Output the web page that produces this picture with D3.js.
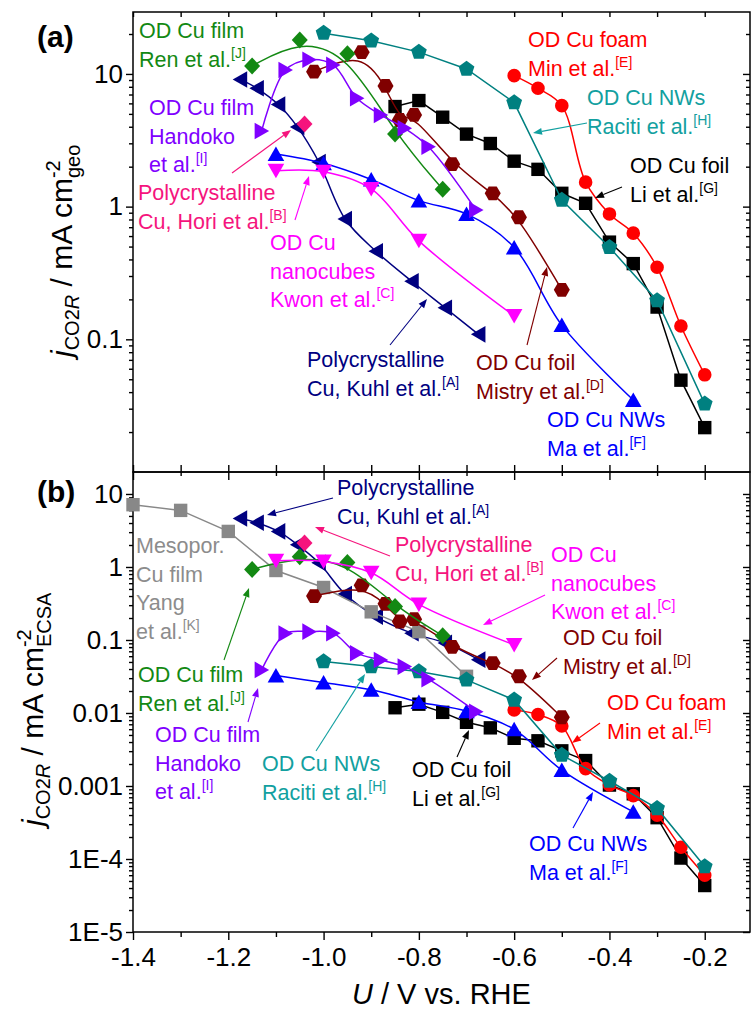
<!DOCTYPE html>
<html>
<head>
<meta charset="utf-8">
<script src="https://cdn.jsdelivr.net/npm/d3@7"></script>
<style>
  body { margin: 0; background: #fff; }
  text { font-family: Arial, "Liberation Sans", sans-serif; }
</style>
</head>
<body>
<div id="chart"></div>
<script>
// two stacked log panels: (a) geometric and (b) ECSA normalised CO2R current

const WIDTH = 753, HEIGHT = 1011;
const LEFT = 133, RIGHT = 750;
const TOP_A = 12, MID = 472, BOT_B = 932;

// axis ticks
const X_TICKS = [-1.4, -1.2, -1.0, -0.8, -0.6, -0.4, -0.2];
const X_MINOR = [-1.3, -1.1, -0.9, -0.7, -0.5, -0.3];
const Y_TICKS_A = [10, 1, 0.1];
const Y_LABELS_A = ["10", "1", "0.1"];
const Y_TICKS_B = [10, 1, 0.1, 0.01, 0.001, 1e-4, 1e-5];
const Y_LABELS_B = ["10", "1", "0.1", "0.01", "0.001", "1E-4", "1E-5"];

// data: potential U (V vs RHE), j geo (mA cm-2), j ECSA (mA cm-2)
const kuhlU = [-1.175, -1.14, -1.095, -1.055, -1.01, -0.955, -0.89, -0.815, -0.745, -0.675];
const kuhlGeo = [9.09, 7.80, 5.88, 3.99, 2.17, 0.807, 0.461, 0.274, 0.173, 0.109];
const kuhlEcsa = [4.61, 4.04, 3.07, 2.02, 1.14, 0.427, 0.209, 0.124, 0.0912, 0.0538];

const horiU = [-1.04];
const horiGeo = [4.2];
const horiEcsa = [2.13];

const kwonU = [-1.1, -1.0, -0.9, -0.8, -0.6];
const kwonGeo = [1.86, 1.83, 1.36, 0.552, 0.150];
const kwonEcsa = [1.22, 1.19, 0.832, 0.307, 0.0857];

const mistryU = [-1.02, -0.92, -0.87, -0.84, -0.81, -0.73, -0.645, -0.59, -0.50];
const mistryGeo = [10.4, 14.6, 8.13, 4.50, 4.91, 2.09, 1.26, 0.832, 0.236];
const mistryEcsa = [0.399, 0.561, 0.313, 0.179, 0.193, 0.0804, 0.0482, 0.0319, 0.00873];

const minU = [-0.6, -0.55, -0.5, -0.45, -0.4, -0.35, -0.3, -0.25, -0.2];
const minGeo = [9.71, 7.8, 5.77, 1.53, 0.881, 0.631, 0.349, 0.126, 0.054];
const minEcsa = [0.011, 0.00953, 0.00663, 0.00173, 0.00103, 7.38e-4, 3.99e-4, 1.45e-4, 6.0e-5];

const maU = [-1.1, -1.0, -0.9, -0.8, -0.7, -0.6, -0.5, -0.35];
const maGeo = [2.49, 2.12, 1.60, 1.11, 0.881, 0.493, 0.128, 0.0349];
const maEcsa = [0.0326, 0.0261, 0.0208, 0.01416, 0.0106, 0.00597, 0.00165, 4.43e-4];

const liU = [-0.85, -0.8, -0.75, -0.7, -0.65, -0.6, -0.55, -0.5, -0.45, -0.4, -0.35, -0.3, -0.25, -0.2];
const liGeo = [5.68, 6.30, 4.72, 3.52, 2.99, 2.20, 1.91, 1.26, 1.06, 0.54, 0.372, 0.175, 0.0492, 0.0216];
const liEcsa = [0.0118, 0.0132, 0.0102, 0.00746, 0.00626, 0.0045, 0.00416, 0.00303, 0.00223, 0.00103, 7.82e-4, 3.68e-4, 1.03e-4, 4.33e-5];

const racitiU = [-1.0, -0.9, -0.8, -0.7, -0.6, -0.5, -0.4, -0.3, -0.2];
const racitiGeo = [20.3, 17.8, 14.6, 10.9, 6.08, 1.12, 0.494, 0.196, 0.0326];
const racitiEcsa = [0.0506, 0.0432, 0.0369, 0.0284, 0.0151, 0.00265, 0.00117, 4.93e-4, 7.89e-5];

const handokoU = [-1.13, -1.08, -1.03, -0.98, -0.93, -0.88, -0.83, -0.78, -0.68];
const handokoGeo = [3.72, 10.7, 12.8, 11.7, 6.56, 4.91, 3.90, 2.83, 0.944];
const handokoEcsa = [0.0389, 0.1225, 0.130, 0.124, 0.0659, 0.0533, 0.0432, 0.029, 0.0104];

const renU = [-1.15, -1.05, -0.95, -0.85, -0.75];
const renGeo = [11.5, 18.0, 14.2, 3.53, 1.35];
const renEcsa = [0.925, 1.38, 1.15, 0.287, 0.114];

const yangU = [-1.4, -1.3, -1.2, -1.1, -1.0, -0.9, -0.8, -0.7];
const yangEcsa = [7.13, 5.96, 3.07, 0.895, 0.524, 0.243, 0.130, 0.0318];

// colours
const NAVY = "#000080", PINK = "#f5147d", MAGENTA = "#ff00ff", DARKRED = "#800000",
      RED = "#ff0000", BLUE = "#0000ff", TEAL = "#008080", TEAL_TXT = "#12a0a0",
      PURPLE = "#8000ff", GREEN = "#138913", GRAY = "#888888", GRAY_TXT = "#8c8c8c";

const SERIES = [
  {u: kuhlU, a: kuhlGeo, b: kuhlEcsa, color: NAVY, shape: "triL", curve: d3.curveCatmullRom},
  {u: yangU, a: null, b: yangEcsa, color: GRAY, shape: "square", curve: d3.curveLinear},
  {u: liU, a: liGeo, b: liEcsa, color: "#000", shape: "square", curve: d3.curveLinear},
  {u: maU, a: maGeo, b: maEcsa, color: BLUE, shape: "triU", curve: d3.curveCatmullRom},
  {u: minU, a: minGeo, b: minEcsa, color: RED, shape: "circle", curve: d3.curveCatmullRom},
  {u: racitiU, a: racitiGeo, b: racitiEcsa, color: TEAL, shape: "pent", curve: d3.curveLinear},
  {u: mistryU, a: mistryGeo, b: mistryEcsa, color: DARKRED, shape: "hex", curve: d3.curveBasis},
  {u: renU, a: renGeo, b: renEcsa, color: GREEN, shape: "diamond", curve: d3.curveBasis},
  {u: kwonU, a: kwonGeo, b: kwonEcsa, color: MAGENTA, shape: "triD", curve: d3.curveCatmullRom},
  {u: handokoU, a: handokoGeo, b: handokoEcsa, color: PURPLE, shape: "triR", curve: d3.curveCatmullRom},
  {u: horiU, a: horiGeo, b: horiEcsa, color: PINK, shape: "diamond", curve: null}
];

// labels (pixel layout) : first baseline x,y ; arrow [x1,y1,x2,y2] head at end
const NOTES_A = [
  {lines: ["OD Cu film", "Ren et al."], ref: "J", x: 139, y: 38, color: GREEN},
  {lines: ["OD Cu film", "Handoko", "et al."], ref: "I", x: 149, y: 115, color: PURPLE},
  {lines: ["Polycrystalline", "Cu, Hori et al."], ref: "B", x: 138, y: 200, color: PINK, arrow: [232, 173, 291, 130]},
  {lines: ["OD Cu", "nanocubes", "Kwon et al."], ref: "C", x: 270, y: 250, color: MAGENTA, arrow: [295, 220, 309, 176]},
  {lines: ["Polycrystalline", "Cu, Kuhl et al."], ref: "A", x: 307, y: 367, color: NAVY, arrow: [390, 345, 427, 299]},
  {lines: ["OD Cu foil", "Mistry et al."], ref: "D", x: 476, y: 370, color: DARKRED, arrow: [527, 345, 547, 267]},
  {lines: ["OD Cu NWs", "Ma et al."], ref: "F", x: 547, y: 427, color: BLUE},
  {lines: ["OD Cu foam", "Min et al."], ref: "E", x: 528, y: 47, color: RED},
  {lines: ["OD Cu NWs", "Raciti et al."], ref: "H", x: 587, y: 105, color: TEAL_TXT, arrow: [587, 123, 533, 133]},
  {lines: ["OD Cu foil", "Li et al."], ref: "G", x: 630, y: 173, color: "#000", arrow: [622, 187, 595, 198]}
];
const NOTES_B = [
  {lines: ["Polycrystalline", "Cu, Kuhl et al."], ref: "A", x: 337, y: 495, color: NAVY, arrow: [333, 498, 267, 515]},
  {lines: ["Polycrystalline", "Cu, Hori et al."], ref: "B", x: 395, y: 552, color: PINK, arrow: [390, 556, 315, 527]},
  {lines: ["OD Cu", "nanocubes", "Kwon et al."], ref: "C", x: 551, y: 562, color: MAGENTA, arrow: [545, 595, 483, 625]},
  {lines: ["OD Cu foil", "Mistry et al."], ref: "D", x: 563, y: 645, color: DARKRED, arrow: [557, 658, 532, 680]},
  {lines: ["OD Cu foam", "Min et al."], ref: "E", x: 607, y: 710, color: RED, arrow: [600, 723, 572, 743]},
  {lines: ["OD Cu NWs", "Ma et al."], ref: "F", x: 529, y: 851, color: BLUE, arrow: [573, 828, 593, 792]},
  {lines: ["OD Cu foil", "Li et al."], ref: "G", x: 412, y: 777, color: "#000", arrow: [457, 757, 469, 730]},
  {lines: ["OD Cu NWs", "Raciti et al."], ref: "H", x: 262, y: 771, color: TEAL_TXT, arrow: [316, 751, 365, 674]},
  {lines: ["OD Cu film", "Handoko", "et al."], ref: "I", x: 155, y: 742, color: PURPLE, arrow: [248, 722, 258, 688]},
  {lines: ["OD Cu film", "Ren et al."], ref: "J", x: 138, y: 682, color: GREEN, arrow: [224, 660, 249, 588]},
  {lines: ["Mesopor.", "Cu film", "Yang", "et al."], ref: "K", x: 136, y: 553, color: GRAY_TXT}
];

const svg = d3.select("#chart").append("svg")
  .attr("width", WIDTH).attr("height", HEIGHT);

const X = d3.scaleLinear().domain([-1.4, -0.105]).range([LEFT, RIGHT]);
const YA = d3.scaleLog().domain([0.01, 29.3]).range([MID, TOP_A]);
const YB = d3.scaleLog().domain([1e-5, 20]).range([BOT_B, MID]);

function logMinors(lo, hi) {
  const out = [];
  for (let e = Math.floor(Math.log10(lo)); e <= Math.ceil(Math.log10(hi)); e++) {
    for (let m = 2; m <= 9; m++) {
      const v = m * Math.pow(10, e);
      if (v > lo && v < hi) out.push(v);
    }
  }
  return out;
}

function clean(g) {
  g.select(".domain").remove();
  g.selectAll("line").attr("stroke-width", 1.4);
}

function axes(y, top, bottom, ticks, labels) {
  const minors = logMinors(y.domain()[0], y.domain()[1]);
  // left
  svg.append("g").attr("transform", `translate(${LEFT},0)`)
    .call(d3.axisLeft(y).tickValues(ticks).tickSize(7).tickPadding(3).tickSizeOuter(0)
      .tickFormat((d, i) => labels[i]))
    .attr("font-size", 26).attr("font-family", "Arial, Liberation Sans, sans-serif")
    .call(clean);
  svg.append("g").attr("transform", `translate(${LEFT},0)`)
    .call(d3.axisLeft(y).tickValues(minors).tickSize(4).tickFormat("").tickSizeOuter(0))
    .call(clean);
  // right (inward)
  svg.append("g").attr("transform", `translate(${RIGHT},0)`)
    .call(d3.axisRight(y).tickValues(ticks).tickSize(-7).tickFormat("").tickSizeOuter(0))
    .call(clean);
  svg.append("g").attr("transform", `translate(${RIGHT},0)`)
    .call(d3.axisRight(y).tickValues(minors).tickSize(-4).tickFormat("").tickSizeOuter(0))
    .call(clean);
  // frame
  svg.append("rect").attr("x", LEFT).attr("y", top)
    .attr("width", RIGHT - LEFT).attr("height", bottom - top)
    .attr("fill", "none").attr("stroke", "#000").attr("stroke-width", 1.5);
}

axes(YA, TOP_A, MID, Y_TICKS_A, Y_LABELS_A);
axes(YB, MID, BOT_B, Y_TICKS_B, Y_LABELS_B);

const ALL_X = X_TICKS.concat(X_MINOR);
// top of (a), inward
svg.append("g").attr("transform", `translate(0,${TOP_A})`)
  .call(d3.axisTop(X).tickValues(ALL_X).tickSize(-5).tickFormat("").tickSizeOuter(0)).call(clean);
// shared border: up into (a), down into (b)
svg.append("g").attr("transform", `translate(0,${MID})`)
  .call(d3.axisBottom(X).tickValues(ALL_X).tickSize(-7).tickFormat("").tickSizeOuter(0)).call(clean);
svg.append("g").attr("transform", `translate(0,${MID})`)
  .call(d3.axisTop(X).tickValues(X_TICKS).tickSize(-8).tickFormat("").tickSizeOuter(0)).call(clean);
svg.append("g").attr("transform", `translate(0,${MID})`)
  .call(d3.axisTop(X).tickValues(X_MINOR).tickSize(-4).tickFormat("").tickSizeOuter(0)).call(clean);
// bottom of (b)
svg.append("g").attr("transform", `translate(0,${BOT_B})`)
  .call(d3.axisBottom(X).tickValues(X_TICKS).tickSize(8).tickPadding(8).tickSizeOuter(0)
    .tickFormat(d => d.toFixed(1)))
  .attr("font-size", 26).attr("font-family", "Arial, Liberation Sans, sans-serif")
  .call(clean);
svg.append("g").attr("transform", `translate(0,${BOT_B})`)
  .call(d3.axisBottom(X).tickValues(X_MINOR).tickSize(5).tickFormat("").tickSizeOuter(0)).call(clean);

// marker shapes, bounding box centred on the point
function polygon(n, r, rot) {
  const p = d3.range(n).map(i => {
    const a = rot + i * 2 * Math.PI / n;
    return [r * Math.cos(a), r * Math.sin(a)];
  });
  return "M" + p.map(q => q[0].toFixed(2) + "," + q[1].toFixed(2)).join("L") + "Z";
}
function shapePath(shape) {
  switch (shape) {
    case "square": return "M-6.7,-6.7H6.7V6.7H-6.7Z";
    case "circle": return d3.symbol(d3.symbolCircle, Math.PI * 6.8 * 6.8)();
    case "diamond": return "M0,-8.5L8,0L0,8.5L-8,0Z";
    case "triU": return "M0,-7.5L8.3,7L-8.3,7Z";
    case "triD": return "M0,7.5L8.3,-7L-8.3,-7Z";
    case "triL": return "M-7.5,0L7,-8.3L7,8.3Z";
    case "triR": return "M7.5,0L-7,-8.3L-7,8.3Z";
    case "pent": return polygon(5, 8.3, -Math.PI / 2);
    case "hex": return polygon(6, 8, 0);
  }
}

function drawSeries(y, key) {
  const g = svg.append("g");
  SERIES.forEach(s => {
    if (!s[key]) return;
    const pts = s.u.map((u, i) => [u, s[key][i]]);
    if (s.curve && pts.length > 1) {
      g.append("path").datum(pts)
        .attr("d", d3.line().x(d => X(d[0])).y(d => y(d[1])).curve(s.curve))
        .attr("fill", "none").attr("stroke", s.color).attr("stroke-width", 1.5);
    }
    g.selectAll(null).data(pts).enter().append("path")
      .attr("d", shapePath(s.shape))
      .attr("transform", d => `translate(${X(d[0])},${y(d[1])})`)
      .attr("fill", s.color);
  });
}
drawSeries(YA, "a");
drawSeries(YB, "b");

// annotations
const LINE_H = 28.5;
function notes(list) {
  list.forEach(n => {
    n.lines.forEach((line, i) => {
      const t = svg.append("text").attr("x", n.x).attr("y", n.y + i * LINE_H)
        .attr("font-size", 21.5).attr("fill", n.color).text(line);
      if (i === n.lines.length - 1) {
        t.append("tspan").attr("font-size", 14).attr("dy", -9).text("[" + n.ref + "]");
      }
    });
    if (n.arrow) {
      const [x1, y1, x2, y2] = n.arrow;
      const ang = Math.atan2(y2 - y1, x2 - x1);
      const L = 9, Wd = 3.5;
      const bx = x2 - L * Math.cos(ang), by = y2 - L * Math.sin(ang);
      svg.append("line").attr("x1", x1).attr("y1", y1).attr("x2", bx).attr("y2", by)
        .attr("stroke", n.color).attr("stroke-width", 1.1);
      svg.append("path")
        .attr("d", `M${x2},${y2}L${bx - Wd * Math.sin(ang)},${by + Wd * Math.cos(ang)}L${bx + Wd * Math.sin(ang)},${by - Wd * Math.cos(ang)}Z`)
        .attr("fill", n.color);
    }
  });
}
notes(NOTES_A);
notes(NOTES_B);

// panel letters
svg.append("text").attr("x", 37).attr("y", 47).attr("font-size", 30).attr("font-weight", "bold").text("(a)");
svg.append("text").attr("x", 37).attr("y", 502).attr("font-size", 30).attr("font-weight", "bold").text("(b)");

// y titles
function yTitle(x, y, sub) {
  const t = svg.append("text").attr("transform", `translate(${x},${y}) rotate(-90)`)
    .attr("font-size", 30);
  t.append("tspan").attr("font-style", "italic").text("j");
  t.append("tspan").attr("font-size", 20).attr("dy", 7).text("CO2");
  t.append("tspan").attr("font-size", 20).attr("font-style", "italic").text("R");
  t.append("tspan").attr("dy", -7).text(" / mA cm");
  const sup = t.append("tspan").attr("font-size", 20).attr("dy", -12).text("-2");
  const s = t.append("tspan").attr("font-size", 20).attr("dy", 20).text(sub);
  s.attr("dx", -sup.node().getComputedTextLength());
}
yTitle(72, 357, "geo");
yTitle(43, 826, "ECSA");

// x title
const xt = svg.append("text").attr("x", 352).attr("y", 1004).attr("font-size", 29);
xt.append("tspan").attr("font-style", "italic").text("U");
xt.append("tspan").text(" / V vs. RHE");
</script>
</body>
</html>
